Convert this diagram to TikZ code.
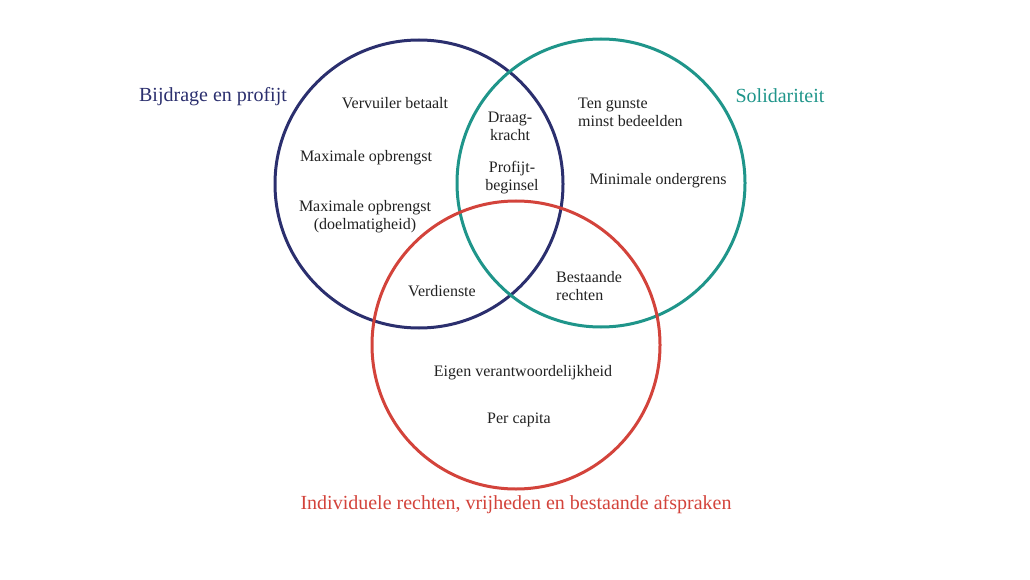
\documentclass[tikz,border=0pt]{standalone}
\usepackage{fontspec}
\setmainfont{Liberation Serif}
\definecolor{cblue}{HTML}{2B2F6E}
\definecolor{cgreen}{HTML}{1F958A}
\definecolor{cred}{HTML}{D3433B}
\definecolor{ctext}{HTML}{222222}
\tikzset{ring/.style={line width=3pt},
 lbl/.style={text=ctext,font=\fontsize{16}{18}\selectfont,align=center,inner sep=0},
 lbll/.style={lbl,align=left,anchor=west},
 ttl/.style={font=\fontsize{20}{22}\selectfont,inner sep=0}}
\begin{document}
\begin{tikzpicture}[x=1pt,y=-1pt]
\useasboundingbox (0,0) rectangle (1030,580);
\draw[ring,cblue] (419,184) circle[radius=144];
\draw[ring,cgreen] (601,183) circle[radius=144];
\draw[ring,cred] (516,345) circle[radius=144];
\node[ttl,text=cblue] (t1) at (213,97) {Bijdrage en profijt};
\node[ttl,text=cgreen] (t2) at (780,96) {Solidariteit};
\node[ttl,text=cred] (t3) at (516,505) {Individuele rechten, vrijheden en bestaande afspraken};
\node[lbl] (a) at (395,103) {Vervuiler betaalt};
\node[lbl] (b) at (366,158) {Maximale opbrengst};
\node[lbl] (c) at (365,217) {Maximale opbrengst\\(doelmatigheid)};
\node[lbl] (d) at (510,126) {Draag-\\kracht};
\node[lbl] (e) at (512,178) {Profijt-\\beginsel};
\node[lbll] (f) at (578,112) {Ten gunste\\minst bedeelden};
\node[lbl] (g) at (658,181) {Minimale ondergrens};
\node[lbl] (h) at (442,291) {Verdienste};
\node[lbll] (i) at (556,286) {Bestaande\\rechten};
\node[lbl] (j) at (523,373) {Eigen verantwoordelijkheid};
\node[lbl] (k) at (519,420) {Per capita};
\end{tikzpicture}
\end{document}
